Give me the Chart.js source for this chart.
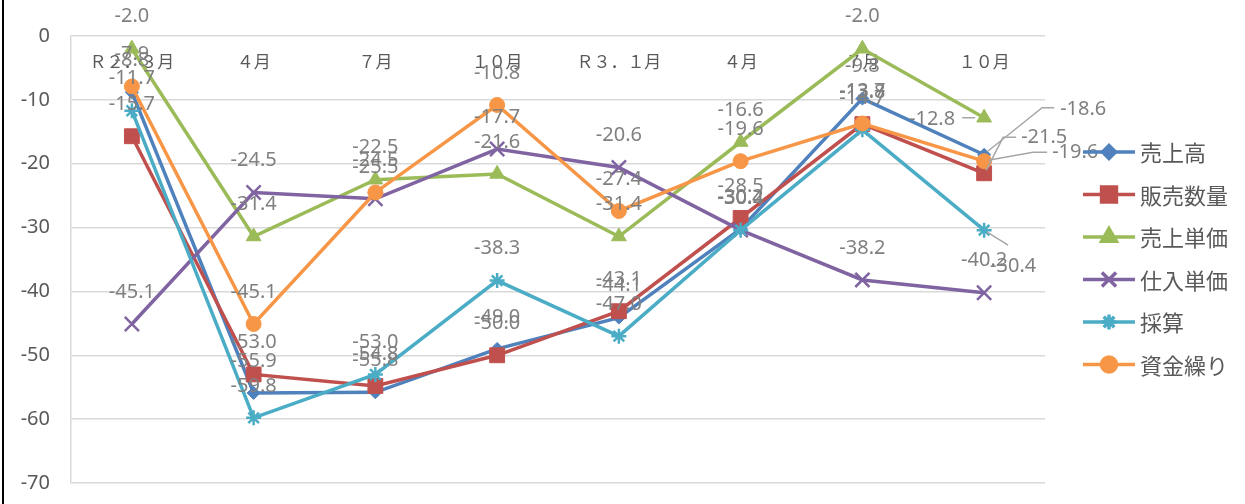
<!DOCTYPE html>
<html lang="ja">
<head>
<meta charset="utf-8">
<title>前年同期比 DI 推移</title>
<script src="https://cdn.jsdelivr.net/npm/chart.js"></script>
<style>
  html, body { margin: 0; padding: 0; background: #fff; }
  #wrap { width: 1245px; height: 504px; position: relative; }
</style>
</head>
<body>
<div id="wrap"><canvas id="diChart" width="1245" height="504"></canvas></div>
<script>
// categories along the x axis
const categories = ['Ｒ２．３月', '４月', '７月', '１０月', 'Ｒ３．１月', '４月', '７月', '１０月'];

// series values
const salesValues    = [-8.8, -55.9, -55.8, -49.0, -44.1, -30.2, -9.8, -18.6];   // 売上高
const volumeValues   = [-15.7, -53.0, -54.8, -50.0, -43.1, -28.5, -13.8, -21.5]; // 販売数量
const unitPriceVals  = [-2.0, -31.4, -22.5, -21.6, -31.4, -16.6, -2.0, -12.8];   // 売上単価
const purchaseVals   = [-45.1, -24.5, -25.5, -17.7, -20.6, -30.4, -38.2, -40.2]; // 仕入単価
const profitValues   = [-11.7, -59.8, -53.0, -38.3, -47.0, -30.4, -14.7, -30.4]; // 採算
const cashflowValues = [-7.9, -45.1, -24.5, -10.8, -27.4, -19.6, -13.7, -19.6];  // 資金繰り

const seriesNames = ['売上高', '販売数量', '売上単価', '仕入単価', '採算', '資金繰り'];
const seriesValues = [salesValues, volumeValues, unitPriceVals, purchaseVals, profitValues, cashflowValues];

// y axis ticks
const yMin = -70;
const yMax = 0;
const yStep = 10;

// look of each series (Office 2007 palette)
const seriesStyles = [
    { color: '#4F81BD', point: 'rectRot', radius: 6.5, border: 1 },
    { color: '#C0504D', point: 'rect', radius: 10.5, border: 1 },
    { color: '#9BBB59', point: 'triangle', radius: 8.5, border: 1 },
    { color: '#8064A2', point: 'crossRot', radius: 10, border: 2.5 },
    { color: '#4BACC6', point: 'star', radius: 7.5, border: 2.5 },
    { color: '#F79646', point: 'circle', radius: 7.5, border: 1 }
];

// labels at the last category were moved by hand in the original, with leader lines
// offsets are relative to the point: [dx, dy], leader is a list of [dx, dy]
const movedLabels = {
    '0-7': { dx: 76, dy: -45, align: 'left', leader: [[3, -3], [58, -47], [70, -47]] },
    '1-7': { dx: 37, dy: -36, align: 'left', leader: [[2, -3], [19, -36], [32, -36]] },
    '2-7': { dx: -29, dy: 2, align: 'right', leader: [[-22, 0], [-9, 0]] },
    '4-7': { dx: 29, dy: 36, align: 'center', leader: [[3, 2], [24, 15]] },
    '5-7': { dx: 68, dy: -9, align: 'left', leader: [[4, -1], [49, -9], [63, -9]] }
};

const LABEL_FONT = '20px "Noto Sans", "Noto Sans CJK JP", sans-serif';
const CJK_FONT = '"Noto Sans CJK JP", "Noto Sans", sans-serif';

const datasets = seriesNames.map((name, i) => ({
    label: name,
    data: seriesValues[i],
    borderColor: seriesStyles[i].color,
    backgroundColor: seriesStyles[i].color,
    borderWidth: 3.5,
    pointStyle: seriesStyles[i].point,
    pointRadius: seriesStyles[i].radius,
    pointBorderWidth: seriesStyles[i].border,
    pointBackgroundColor: seriesStyles[i].color,
    pointBorderColor: seriesStyles[i].color,
    tension: 0,
    order: seriesNames.length - i // later series sit on top, like Excel
}));

// category names sit just under the 0 line, inside the plot
const categoryLabels = {
    id: 'categoryLabels',
    beforeDatasetsDraw(chart) {
        const ctx = chart.ctx;
        const xScale = chart.scales.x;
        const y = chart.scales.y.getPixelForValue(0) + 17;
        ctx.save();
        ctx.font = '17px ' + CJK_FONT;
        ctx.fillStyle = '#595959';
        ctx.textAlign = 'center';
        ctx.textBaseline = 'top';
        chart.data.labels.forEach((lab, i) => {
            ctx.fillText(lab, xScale.getPixelForValue(i), y);
        });
        ctx.restore();
    }
};

// value labels above each point
const valueLabels = {
    id: 'valueLabels',
    afterDatasetsDraw(chart) {
        const ctx = chart.ctx;
        ctx.save();
        ctx.font = LABEL_FONT;
        ctx.fillStyle = '#808080';
        ctx.textBaseline = 'middle';
        chart.data.datasets.forEach((ds, i) => {
            const meta = chart.getDatasetMeta(i);
            meta.data.forEach((pt, j) => {
                const text = ds.data[j].toFixed(1);
                const moved = movedLabels[i + '-' + j];
                if (moved) {
                    ctx.strokeStyle = '#A6A6A6';
                    ctx.lineWidth = 1.5;
                    ctx.beginPath();
                    moved.leader.forEach((p, k) => {
                        if (k === 0) ctx.moveTo(pt.x + p[0], pt.y + p[1]);
                        else ctx.lineTo(pt.x + p[0], pt.y + p[1]);
                    });
                    ctx.stroke();
                    ctx.textAlign = moved.align;
                    ctx.fillText(text, pt.x + moved.dx, pt.y + moved.dy);
                } else {
                    ctx.textAlign = 'center';
                    ctx.fillText(text, pt.x, pt.y - 32);
                }
            });
        });
        ctx.restore();
    }
};

// legend on the right: short line with the marker in the middle
const sideLegend = {
    id: 'sideLegend',
    afterDraw(chart) {
        const ctx = chart.ctx;
        const area = chart.chartArea;
        ctx.save();
        chart.data.datasets.forEach((ds, i) => {
            const y = 152 + i * 42.5;
            const x0 = area.right + 38;
            const x1 = x0 + 52;
            ctx.strokeStyle = ds.borderColor;
            ctx.fillStyle = ds.borderColor;
            ctx.lineWidth = 3.5;
            ctx.beginPath();
            ctx.moveTo(x0, y);
            ctx.lineTo(x1, y);
            ctx.stroke();
            Chart.helpers.drawPoint(ctx, {
                pointStyle: ds.pointStyle,
                radius: ds.pointRadius,
                borderWidth: ds.pointBorderWidth,
                rotation: 0
            }, (x0 + x1) / 2, y);
            ctx.font = '22px ' + CJK_FONT;
            ctx.fillStyle = '#595959';
            ctx.textAlign = 'left';
            ctx.textBaseline = 'middle';
            ctx.fillText(ds.label, x1 + 5, y + 1);
        });
        // frame edge on the left of the original picture
        ctx.fillStyle = '#000';
        ctx.fillRect(2, 0, 2, chart.height);
        ctx.restore();
    }
};

const ctx = document.getElementById('diChart').getContext('2d');
const myChart = new Chart(ctx, {
    type: 'line',
    data: { labels: categories, datasets: datasets },
    options: {
        responsive: false,
        animation: false,
        events: [],
        layout: { padding: { top: 36, right: 200, bottom: 21, left: 0 } },
        plugins: {
            legend: { display: false },
            tooltip: { enabled: false }
        },
        scales: {
            x: {
                display: false,
                offset: true
            },
            y: {
                min: yMin,
                max: yMax,
                afterFit(scale) {
                    scale.width = 71;
                    // tick padding would otherwise push the plot bottom up
                    scale.paddingTop = 12;
                    scale.paddingBottom = 12;
                },
                grid: { color: '#D9D9D9', lineWidth: 1.5, drawTicks: false },
                border: { display: true, color: '#D9D9D9', width: 1.5 },
                ticks: {
                    stepSize: yStep,
                    padding: 21,
                    color: '#595959',
                    font: { family: '"Noto Sans", sans-serif', size: 20 }
                }
            }
        }
    },
    plugins: [categoryLabels, valueLabels, sideLegend]
});
</script>
</body>
</html>
